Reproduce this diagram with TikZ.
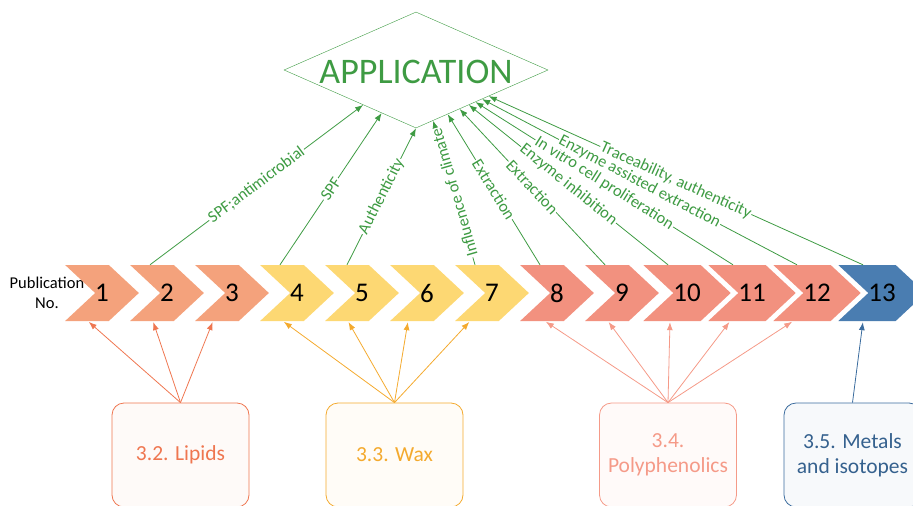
\documentclass[tikz,border=0pt]{standalone}
\usepackage{fontspec}
\setmainfont{Carlito}
\usetikzlibrary{shapes.geometric,shapes.symbols,arrows.meta,calc}

\definecolor{appgreen}{HTML}{3E9B43}
\definecolor{lipidfill}{HTML}{F4A27C}
\definecolor{lipidline}{HTML}{EF7650}
\definecolor{waxfill}{HTML}{FDD873}
\definecolor{waxline}{HTML}{F4AA2E}
\definecolor{polyfill}{HTML}{F2917F}
\definecolor{polyline}{HTML}{F59A88}
\definecolor{metalfill}{HTML}{4A7DB1}
\definecolor{metalline}{HTML}{3B6C9E}

\begin{document}
\begin{tikzpicture}[
    x=1pt, y=-1pt,
    chev/.style={signal, signal to=east, signal from=west, signal pointer angle=86,
      minimum width=67pt, minimum height=56pt, inner sep=0pt, draw=none,
      font=\fontsize{27}{27}\selectfont},
    apparrow/.style={draw=appgreen, line width=0.8pt, -{Latex[length=8pt,width=6pt]}},
    applabel/.style={midway, sloped, fill=white, inner sep=1pt, text=appgreen,
      font=\fontsize{16.5}{16.5}\selectfont},
    groupbox/.style={draw, rounded corners=12pt, minimum width=137pt, minimum height=104pt,
      align=center, line width=0.8pt, font=\fontsize{21.5}{25}\selectfont},
    grouparrow/.style={line width=0.8pt, -{Latex[length=8pt,width=6pt]}, shorten >=1pt}
]
\useasboundingbox (0,0) rectangle (913,506);

% application
\node[diamond, draw=appgreen, aspect=2.28, minimum width=264pt, minimum height=116pt,
  inner sep=0pt, text height=26pt, text depth=0pt, text=appgreen,
  font=\fontsize{36}{36}\selectfont] (app) at (416,70) {APPLICATION};

% publications
\node[align=center, font=\fontsize{16.5}{20}\selectfont] (pubno) at (47,293) {Publication\\No.};
\node[chev, fill=lipidfill] (c1) at (102,293) {1};
\node[chev, fill=lipidfill] (c2) at (167,293) {2};
\node[chev, fill=lipidfill] (c3) at (232,293) {3};
\node[chev, fill=waxfill] (c4) at (297,293) {4};
\node[chev, fill=waxfill] (c5) at (362,293) {5};
\node[chev, fill=waxfill] (c6) at (427,293) {6};
\node[chev, fill=waxfill] (c7) at (492,293) {7};
\node[chev, fill=polyfill] (c8) at (557,293) {8};
\node[chev, fill=polyfill] (c9) at (622,293) {9};
\node[chev, fill=polyfill] (c10) at (687,293) {10};
\node[chev, fill=polyfill] (c11) at (752,293) {11};
\node[chev, fill=polyfill] (c12) at (817,293) {12};
\node[chev, fill=metalfill] (c13) at (882,293) {13};

% groups
\node[groupbox, draw=lipidline, fill=lipidline!4, text=lipidline] (lipids) at (180.5,455) {3.2. Lipids};
\node[groupbox, draw=waxline, fill=waxline!4, text=waxline] (wax) at (394.5,455) {3.3. Wax};
\node[groupbox, draw=polyline, fill=polyline!5, text=polyline] (poly) at (668,455) {3.4.\\Polyphenolics};
\node[groupbox, draw=metalline, fill=metalline!4, text=metalline!90!black] (metals) at (852.5,455) {3.5. Metals\\and isotopes};

% groups -> publications
\draw[grouparrow, lipidline] (lipids.north) -- ([xshift=-14pt]c1.south);
\draw[grouparrow, lipidline] (lipids.north) -- ([xshift=-14pt]c2.south);
\draw[grouparrow, lipidline] (lipids.north) -- ([xshift=-19pt]c3.south);
\draw[grouparrow, waxline] (wax.north) -- ([xshift=-14pt]c4.south);
\draw[grouparrow, waxline] (wax.north) -- ([xshift=-14pt]c5.south);
\draw[grouparrow, waxline] (wax.north) -- ([xshift=-19pt]c6.south);
\draw[grouparrow, waxline] (wax.north) -- ([xshift=-22pt]c7.south);
\draw[grouparrow, polyline] (poly.north) -- ([xshift=-12pt]c8.south);
\draw[grouparrow, polyline] (poly.north) -- ([xshift=-14pt]c9.south);
\draw[grouparrow, polyline] (poly.north) -- ([xshift=-17pt]c10.south);
\draw[grouparrow, polyline] (poly.north) -- ([xshift=-22pt]c11.south);
\draw[grouparrow, polyline] (poly.north) -- ([xshift=-24pt]c12.south);
\draw[grouparrow, metalline] (metals.north) -- ([xshift=-19pt]c13.south);

% publications -> application
\draw[apparrow] ([xshift=-17pt]c2.north) -- node[applabel] {SPF;antimicrobial} ($(app.south)!0.40!(app.west)$);
\draw[apparrow] ([xshift=-17pt]c4.north) -- node[applabel] {SPF} ($(app.south)!0.26!(app.west)$);
\draw[apparrow] ([xshift=-15pt]c5.north) -- node[applabel] {Authenticity} (app.south);
\draw[apparrow] ([xshift=-17pt]c7.north) -- node[applabel, allow upside down] {Influence of climate} ($(app.south)!0.13!(app.east)$);
\draw[apparrow] ([xshift=-17pt]c8.north) -- node[applabel] {Extraction} ($(app.south)!0.24!(app.east)$);
\draw[apparrow] ([xshift=-17pt]c9.north) -- node[applabel] {Extraction} ($(app.south)!0.33!(app.east)$);
\draw[apparrow] ([xshift=-19pt]c10.north) -- node[applabel] {Enzyme inhibition} ($(app.south)!0.40!(app.east)$);
\draw[apparrow] ([xshift=-19pt]c11.north) -- node[applabel] {In vitro cell proliferation} ($(app.south)!0.45!(app.east)$);
\draw[apparrow] ([xshift=-20pt]c12.north) -- node[applabel] {Enzyme assisted extraction} ($(app.south)!0.50!(app.east)$);
\draw[apparrow] ([xshift=-19pt]c13.north) -- node[applabel] {Traceability, authenticity} ($(app.south)!0.55!(app.east)$);
\end{tikzpicture}
\end{document}
